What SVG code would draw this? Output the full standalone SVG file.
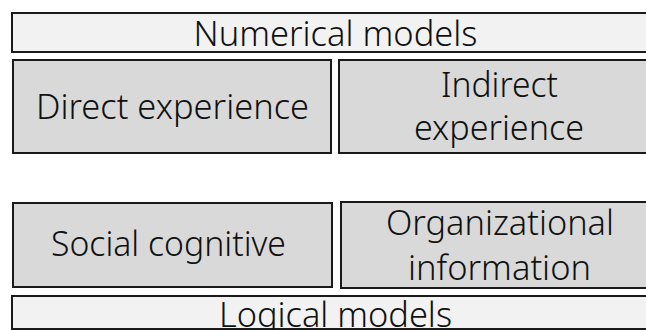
<svg xmlns="http://www.w3.org/2000/svg" width="646" height="330" viewBox="0 0 646 330">
<style>
.bar{fill:#f2f2f2;stroke:#1a1a1a;stroke-width:2}
.box{fill:#d9d9d9;stroke:#1a1a1a;stroke-width:2}
.t{font-family:"Noto Sans","Open Sans","DejaVu Sans",sans-serif;font-weight:300;font-size:35px;fill:#111;text-anchor:middle}
</style>
<rect width="646" height="330" fill="#ffffff"/>
<g id="numerical-models">
<rect class="bar" x="12" y="13" width="660" height="39"/>
<text class="t" x="335.5" y="46" textLength="284" lengthAdjust="spacingAndGlyphs">Numerical models</text>
</g>
<g id="direct-experience">
<rect class="box" x="13" y="60" width="318" height="93"/>
<text class="t" x="172.5" y="119" textLength="273" lengthAdjust="spacingAndGlyphs">Direct experience</text>
</g>
<g id="indirect-experience">
<rect class="box" x="339" y="60" width="330" height="93"/>
<text class="t" x="499.5" y="97" textLength="117" lengthAdjust="spacingAndGlyphs">Indirect</text>
<text class="t" x="499" y="140" textLength="170" lengthAdjust="spacingAndGlyphs">experience</text>
</g>
<g id="social-cognitive">
<rect class="box" x="13" y="203" width="319" height="84"/>
<text class="t" x="168.5" y="256" textLength="235" lengthAdjust="spacingAndGlyphs">Social cognitive</text>
</g>
<g id="organizational-information">
<rect class="box" x="341" y="202" width="330" height="86"/>
<text class="t" x="500" y="235" textLength="228" lengthAdjust="spacingAndGlyphs">Organizational</text>
<text class="t" x="499.5" y="280" textLength="183" lengthAdjust="spacingAndGlyphs">information</text>
</g>
<g id="logical-models">
<rect class="bar" x="12" y="296" width="660" height="33"/>
<text class="t" x="335.5" y="327" textLength="233" lengthAdjust="spacingAndGlyphs">Logical models</text>
</g>
<g id="connectors"></g>
</svg>
